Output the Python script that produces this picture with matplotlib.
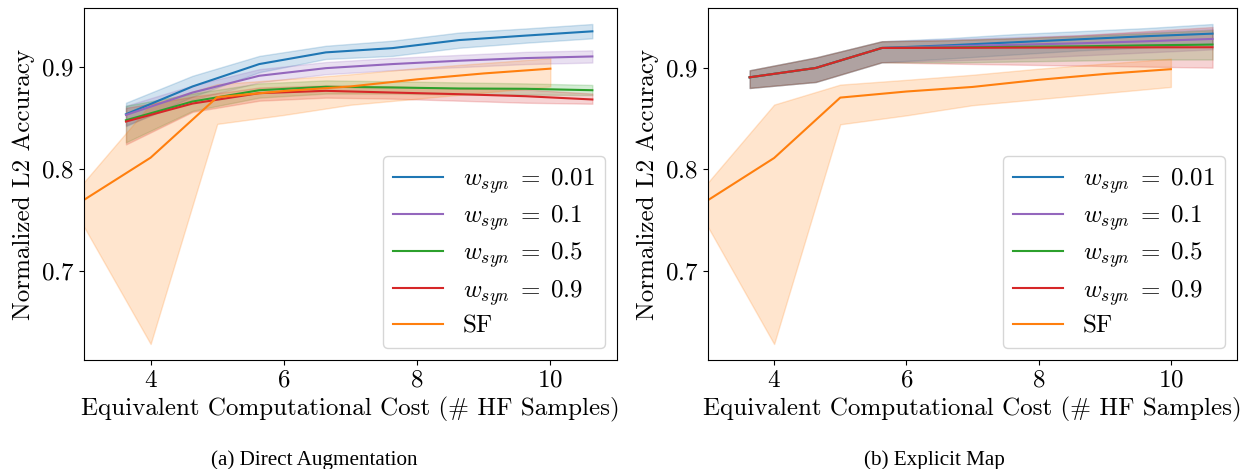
import matplotlib
matplotlib.use("Agg")
import matplotlib.pyplot as plt

plt.rcParams['font.family'] = 'serif'
plt.rcParams['font.serif'] = ['cmr10']
plt.rcParams['mathtext.fontset'] = 'cm'
plt.rcParams['axes.formatter.use_mathtext'] = True
plt.rcParams['axes.unicode_minus'] = False

# ---------------- data ----------------
x_syn = [3.63, 4.63, 5.63, 6.63, 7.63, 8.63, 9.63, 10.63]
x_sf = [3, 4, 5, 6, 7, 8, 9, 10]

labels = [r'$w_{syn}\;=\;0.01$', r'$w_{syn}\;=\;0.1$', r'$w_{syn}\;=\;0.5$', r'$w_{syn}\;=\;0.9$', 'SF']
colors = ['#1f77b4', '#9467bd', '#2ca02c', '#d62728', '#ff7f0e']

# (a) Direct Augmentation
da_001_mean = [0.8537, 0.881, 0.903, 0.9145, 0.9187, 0.9266, 0.931, 0.9352]
da_001_hi = [0.865, 0.8915, 0.911, 0.921, 0.926, 0.934, 0.938, 0.9424]
da_001_lo = [0.842, 0.871, 0.895, 0.908, 0.911, 0.919, 0.924, 0.9283]

da_01_mean = [0.853, 0.875, 0.8915, 0.899, 0.903, 0.9063, 0.9089, 0.9105]
da_01_hi = [0.862, 0.882, 0.898, 0.905, 0.909, 0.912, 0.915, 0.9165]
da_01_lo = [0.843, 0.868, 0.885, 0.893, 0.897, 0.900, 0.903, 0.9045]

da_05_mean = [0.8478, 0.8662, 0.8773, 0.8807, 0.880, 0.879, 0.8787, 0.8773]
da_05_hi = [0.862, 0.874, 0.884, 0.887, 0.886, 0.885, 0.884, 0.8825]
da_05_lo = [0.826, 0.857, 0.870, 0.874, 0.874, 0.873, 0.873, 0.8725]

da_09_mean = [0.8465, 0.8642, 0.8744, 0.8767, 0.875, 0.8734, 0.8714, 0.8682]
da_09_hi = [0.860, 0.871, 0.880, 0.882, 0.881, 0.879, 0.878, 0.874]
da_09_lo = [0.824, 0.856, 0.867, 0.870, 0.869, 0.867, 0.865, 0.864]

# single-fidelity baseline (same in both panels)
sf_mean = [0.7695, 0.811, 0.8705, 0.8765, 0.881, 0.888, 0.8938, 0.8985]
sf_hi = [0.787, 0.8636, 0.8833, 0.888, 0.893, 0.899, 0.904, 0.9088]
sf_lo = [0.743, 0.6278, 0.8442, 0.853, 0.863, 0.869, 0.875, 0.881]

# (b) Explicit Map
em_001_mean = [0.8905, 0.8997, 0.9194, 0.922, 0.925, 0.928, 0.931, 0.9335]
em_001_hi = [0.8974, 0.910, 0.926, 0.929, 0.933, 0.936, 0.939, 0.943]
em_001_lo = [0.880, 0.8859, 0.9053, 0.909, 0.913, 0.917, 0.920, 0.924]

em_01_mean = [0.8905, 0.8997, 0.9194, 0.921, 0.9225, 0.924, 0.926, 0.9283]
em_01_hi = [0.8974, 0.910, 0.926, 0.928, 0.930, 0.932, 0.935, 0.938]
em_01_lo = [0.880, 0.8859, 0.9053, 0.907, 0.909, 0.912, 0.915, 0.918]

em_05_mean = [0.8905, 0.8997, 0.9194, 0.9198, 0.9205, 0.921, 0.922, 0.9227]
em_05_hi = [0.8974, 0.910, 0.926, 0.927, 0.929, 0.931, 0.934, 0.937]
em_05_lo = [0.880, 0.8859, 0.9053, 0.905, 0.906, 0.907, 0.908, 0.908]

em_09_mean = [0.8905, 0.8997, 0.9194, 0.9195, 0.9197, 0.9199, 0.920, 0.9201]
em_09_hi = [0.8974, 0.910, 0.926, 0.927, 0.929, 0.932, 0.936, 0.940]
em_09_lo = [0.880, 0.8859, 0.9053, 0.904, 0.903, 0.902, 0.901, 0.900]

panels = [
    dict(means=[da_001_mean, da_01_mean, da_05_mean, da_09_mean],
         his=[da_001_hi, da_01_hi, da_05_hi, da_09_hi],
         los=[da_001_lo, da_01_lo, da_05_lo, da_09_lo],
         caption='(a) Direct Augmentation'),
    dict(means=[em_001_mean, em_01_mean, em_05_mean, em_09_mean],
         his=[em_001_hi, em_01_hi, em_05_hi, em_09_hi],
         los=[em_001_lo, em_01_lo, em_05_lo, em_09_lo],
         caption='(b) Explicit Map'),
]

fig = plt.figure(figsize=(12.46, 4.69), dpi=100)
ax_rects = [[84 / 1246, 109 / 469, 533 / 1246, 352 / 469],
            [708 / 1246, 109 / 469, 529 / 1246, 352 / 469]]
cap_x = [314 / 1246, 934 / 1246]

FS = 18
for p, rect, cx in zip(panels, ax_rects, cap_x):
    ax = fig.add_axes(rect)
    for m, hi, lo, c, lab in zip(p['means'], p['his'], p['los'], colors[:4], labels[:4]):
        ax.plot(x_syn, m, color=c, lw=1.5, label=lab)
        ax.fill_between(x_syn, lo, hi, color=c, alpha=0.2)
    ax.plot(x_sf, sf_mean, color=colors[4], lw=1.5, label=labels[4])
    ax.fill_between(x_sf, sf_lo, sf_hi, color=colors[4], alpha=0.2)
    ax.set_xlim(3, 11)
    ax.set_xticks([4, 6, 8, 10])
    ax.set_yticks([0.7, 0.8, 0.9])
    ax.tick_params(labelsize=FS)
    ax.set_xlabel('Equivalent Computational Cost (# HF Samples)', fontsize=FS)
    ax.set_ylabel('Normalized L2 Accuracy', fontsize=FS)
    ax.legend(loc='lower right', fontsize=FS, labelspacing=0.3,
              borderaxespad=0.5)
    fig.text(cx, 9 / 469, p['caption'], ha='center', va='center',
             family='Liberation Serif', fontsize=15.2)

fig.savefig('out.png', dpi=100)
